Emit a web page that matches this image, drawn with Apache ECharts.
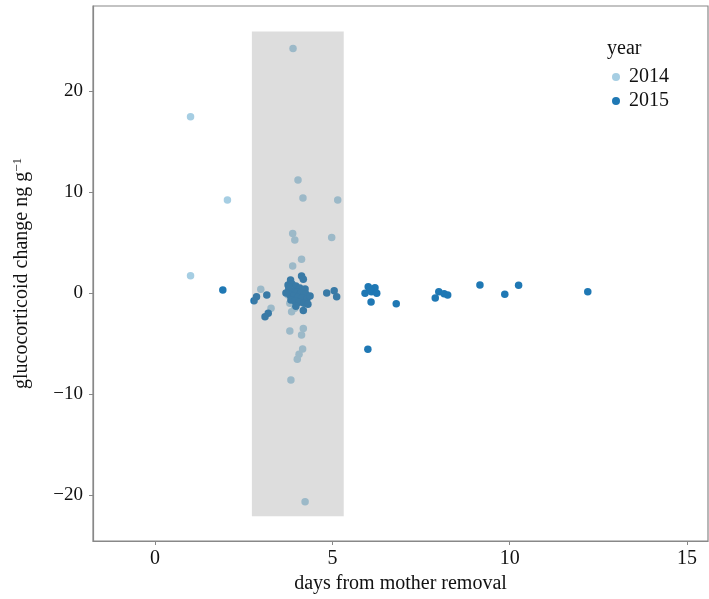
<!DOCTYPE html>
<html>
<head>
<meta charset="utf-8">
<script src="https://cdn.jsdelivr.net/npm/echarts@6/dist/echarts.min.js"></script>
<style>html,body{margin:0;padding:0;background:#fff}#c{width:709px;height:599px}</style>
</head>
<body>
<div id="c"></div>
<script>
const xTicks = [0, 5, 10, 15];
const yTicks = [-20, -10, 0, 10, 20];
const windowDays = [2.73, 5.32];
const windowChange = [-22.1, 25.9];

const days2014 = [1.0, 1.0, 2.04, 3.89, 4.03, 4.17, 5.15, 3.88, 3.94, 4.98, 4.13, 3.88, 2.98, 3.27, 3.80, 3.94, 3.85, 3.80, 4.18, 4.13, 4.16, 4.06, 4.01, 3.83, 4.23, 3.75, 4.0];
const change2014 = [17.45, 1.7, 9.2, 24.2, 11.2, 9.4, 9.2, 5.9, 5.25, 5.5, 3.35, 2.67, 0.37, -1.5, -1.0, -1.5, -1.85, -3.76, -3.5, -4.16, -5.54, -6.07, -6.56, -8.6, -20.66, -0.2, 0.3];

const days2015 = [1.91, 2.86, 2.79, 3.15, 3.19, 3.10, 3.82, 4.13, 4.18, 4.18,
  3.75, 3.86, 3.97, 4.08, 4.23, 3.77, 3.89, 4.0, 4.11, 4.25, 3.80, 3.92, 4.03, 4.14, 4.28, 3.83, 3.94, 4.06, 4.2, 4.31, 3.97, 3.77, 3.69, 4.37,
  4.84, 5.05, 5.12, 6.01, 6.2, 5.92, 6.1, 6.25, 6.09, 6.0, 6.8, 7.9, 8.0, 8.15, 8.25, 9.16, 9.86, 10.25, 12.2, 6.06];
const change2015 = [0.3, -0.37, -0.76, -0.2, -2.0, -2.35, 1.29, 1.68, 1.36, -1.73,
  0.8, 0.9, 0.7, 0.5, 0.4, 0.3, 0.2, 0.1, 0.0, -0.1, -0.2, -0.3, -0.4, -0.5, -0.6, -0.7, -0.8, -0.9, -1.0, -1.1, -1.3, 0.6, 0.0, -0.3,
  0.0, 0.23, -0.37, 0.62, 0.52, -0.03, 0.13, -0.03, -0.89, -5.57, -1.06, -0.5, 0.13, -0.07, -0.2, 0.8, -0.13, 0.76, 0.13, 0.4];

const zip = (a, b) => a.map((v, i) => [v, b[i]]);
const FONT = '"Liberation Serif", "DejaVu Serif", serif';

const chart = echarts.init(document.getElementById('c'));
chart.setOption({
  animation: false,
  backgroundColor: '#ffffff',
  textStyle: { fontFamily: FONT },
  grid: { left: 93, right: 1, top: 6, bottom: 58, show: true, borderColor: '#888', borderWidth: 1.2, containLabel: false },
  xAxis: {
    type: 'value', min: -1.75, max: 15.59,
    splitLine: { show: false },
    axisLine: { show: true, onZero: false, lineStyle: { color: '#888', width: 1.2 } },
    axisTick: { show: true, inside: false, length: 4, customValues: xTicks, lineStyle: { color: '#888' } },
    axisLabel: { customValues: xTicks, color: '#111', fontSize: 20, fontFamily: FONT, margin: 8 },
    name: 'days from mother removal', nameLocation: 'middle', nameGap: 33,
    nameTextStyle: { color: '#111', fontSize: 20, fontFamily: FONT }
  },
  yAxis: {
    type: 'value', min: -24.55, max: 28.42,
    splitLine: { show: false },
    axisLine: { show: true, onZero: false, lineStyle: { color: '#888', width: 1.2 } },
    axisTick: { show: true, inside: false, length: 4, customValues: yTicks, lineStyle: { color: '#888' } },
    axisLabel: { customValues: yTicks, color: '#111', fontSize: 19, fontFamily: FONT, margin: 10,
      formatter: v => (v < 0 ? '\u2212' + Math.abs(v) : String(v)) },
    name: 'glucocorticoid change ng g{sup|\u22121}', nameLocation: 'middle', nameGap: 60, nameRotate: 90,
    nameTextStyle: { color: '#111', fontSize: 20, fontFamily: FONT,
      rich: { sup: { fontSize: 13, fontFamily: FONT, color: '#111', verticalAlign: 'bottom', padding: [0, 0, 9, 0] } } }
  },
  legend: {
    orient: 'vertical', left: 607, top: 62, itemGap: 4,
    icon: 'circle', itemWidth: 8, itemHeight: 8,
    textStyle: { color: '#111', fontSize: 20, fontFamily: FONT, padding: [0, 0, 0, 4] },
    data: ['2014', '2015']
  },
  graphic: [{ type: 'text', left: 607, top: 39, style: { text: 'year', fill: '#111', font: '20px ' + FONT } }],
  series: [
    { name: '2014', type: 'scatter', symbolSize: 7.5, z: 2, itemStyle: { color: '#a6cee3', opacity: 1 }, data: zip(days2014, change2014) },
    { name: '2015', type: 'scatter', symbolSize: 7.5, z: 2, itemStyle: { color: '#1f78b4', opacity: 1 }, data: zip(days2015, change2015) },
    { name: 'window', type: 'scatter', z: 5, data: [], silent: true,
      markArea: { silent: true, z: 5, itemStyle: { color: 'rgba(128,128,128,0.27)' },
        data: [[{ coord: [windowDays[0], windowChange[0]] }, { coord: [windowDays[1], windowChange[1]] }]] } }
  ]
});
</script>
</body>
</html>
